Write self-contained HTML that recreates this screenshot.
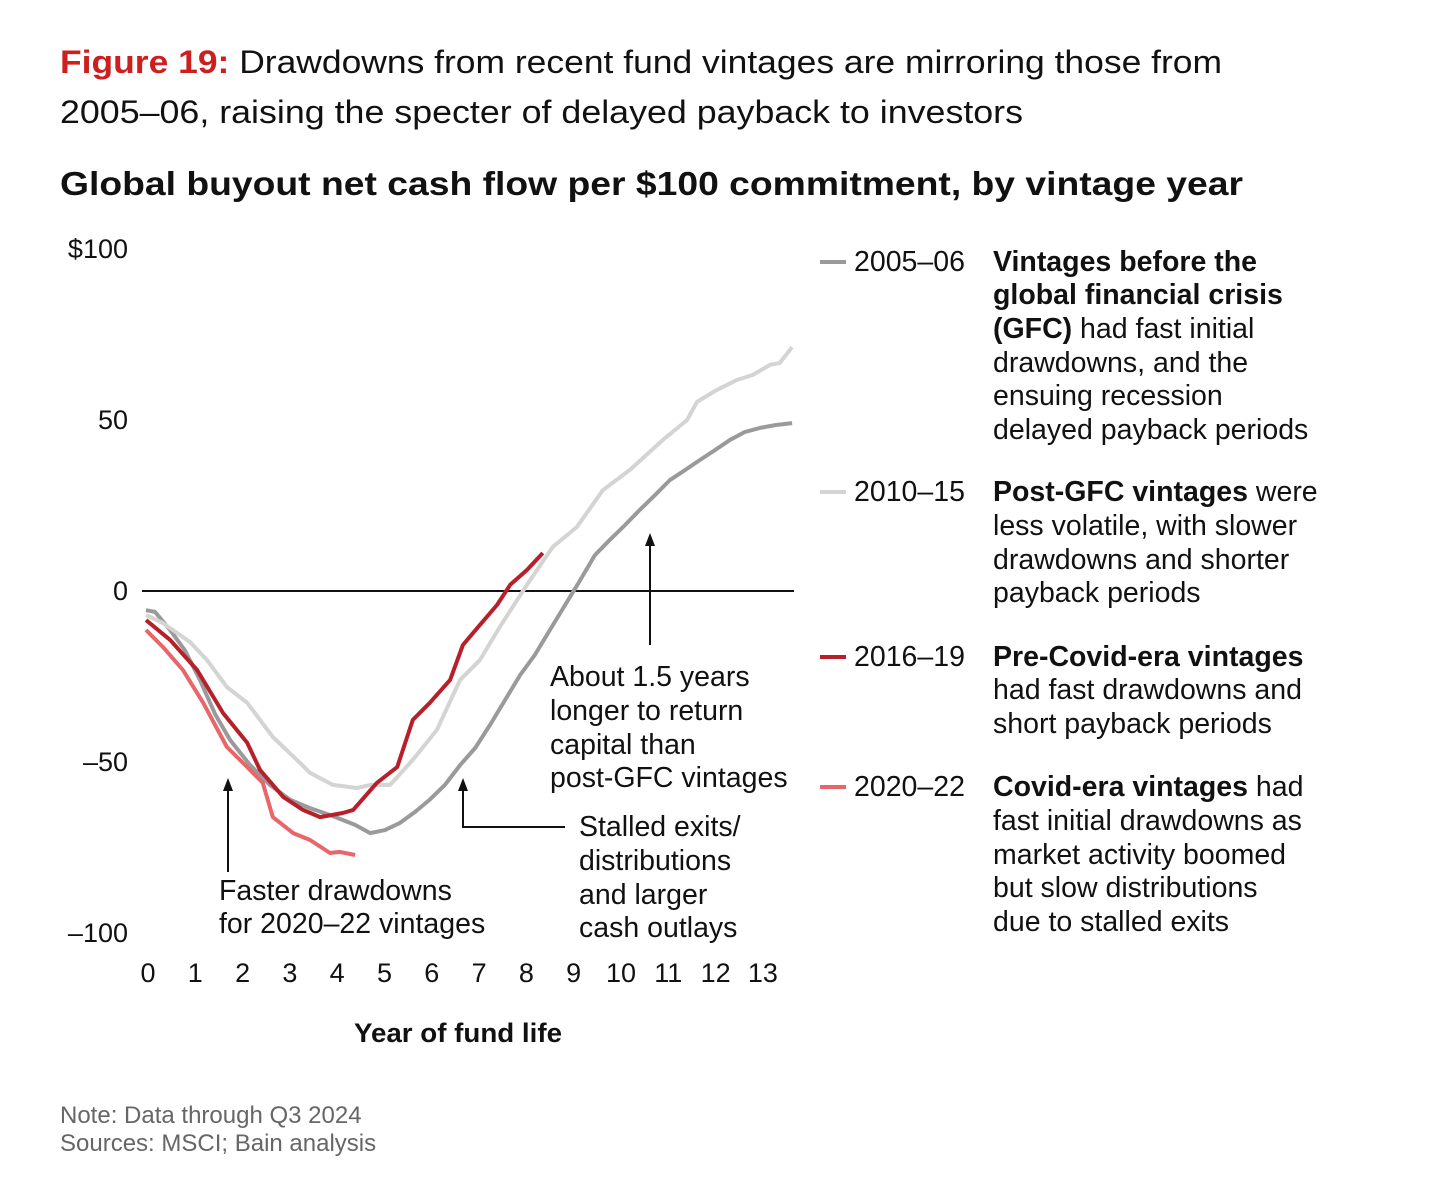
<!DOCTYPE html>
<html><head><meta charset="utf-8"><style>
html,body{margin:0;padding:0;background:#fff;}
svg{display:block;font-family:"Liberation Sans",sans-serif;}
</style></head><body>
<svg width="1440" height="1182" viewBox="0 0 1440 1182">
<g font-size="32" fill="#111">
<text x="60" y="73" textLength="1162" lengthAdjust="spacingAndGlyphs"><tspan fill="#cc1f1f" font-weight="bold">Figure 19:</tspan> Drawdowns from recent fund vintages are mirroring those from</text>
<text x="60" y="123" textLength="963" lengthAdjust="spacingAndGlyphs">2005–06, raising the specter of delayed payback to investors</text>
</g>
<text x="60" y="195" font-size="33" font-weight="bold" fill="#111" textLength="1183" lengthAdjust="spacingAndGlyphs">Global buyout net cash flow per $100 commitment, by vintage year</text>
<g id="yaxis" font-size="27" fill="#111" text-anchor="end"></g>
<g id="xaxis" font-size="27" fill="#111" text-anchor="middle"></g>
<line id="zeroline" stroke="#111" stroke-width="2"/>
<g id="series"></g>
<text x="458" y="1042" font-size="27" font-weight="bold" text-anchor="middle" fill="#111" textLength="208" lengthAdjust="spacingAndGlyphs">Year of fund life</text>
<g font-size="28.5" fill="#111" stroke-width="2">
<line x1="228" y1="872" x2="228" y2="786" stroke="#111"/><polygon points="228,778 223,791 233,791" fill="#111"/>
<text x="219" y="900">Faster drawdowns</text><text x="219" y="933">for 2020–22 vintages</text>
<polyline points="565,827 463,827 463,786" fill="none" stroke="#111"/><polygon points="463,778 458,791 468,791" fill="#111"/>
<text x="579" y="836">Stalled exits/</text><text x="579" y="870">distributions</text><text x="579" y="904">and larger</text><text x="579" y="937">cash outlays</text>
<line x1="650" y1="645" x2="650" y2="542" stroke="#111"/><polygon points="650,533 645,546 655,546" fill="#111"/>
<text x="550" y="686">About 1.5 years</text><text x="550" y="720">longer to return</text><text x="550" y="754">capital than</text><text x="550" y="787">post-GFC vintages</text>
</g>
<g font-size="28.5" fill="#111">
<g><line x1="820" y1="262" x2="846" y2="262" stroke="#9a9a9a" stroke-width="4"/><text x="854" y="271">2005–06</text>
<text x="993" y="271" font-weight="bold">Vintages before the</text><text x="993" y="304" font-weight="bold">global financial crisis</text><text x="993" y="338"><tspan font-weight="bold">(GFC)</tspan> had fast initial</text><text x="993" y="372">drawdowns, and the</text><text x="993" y="405">ensuing recession</text><text x="993" y="439">delayed payback periods</text></g>
<g><line x1="820" y1="492" x2="846" y2="492" stroke="#d4d4d2" stroke-width="4"/><text x="854" y="501">2010–15</text>
<text x="993" y="501"><tspan font-weight="bold">Post-GFC vintages</tspan> were</text><text x="993" y="535">less volatile, with slower</text><text x="993" y="569">drawdowns and shorter</text><text x="993" y="602">payback periods</text></g>
<g><line x1="820" y1="657" x2="846" y2="657" stroke="#b7202a" stroke-width="4"/><text x="854" y="666">2016–19</text>
<text x="993" y="666" font-weight="bold">Pre-Covid-era vintages</text><text x="993" y="699">had fast drawdowns and</text><text x="993" y="733">short payback periods</text></g>
<g><line x1="820" y1="787" x2="846" y2="787" stroke="#e8656a" stroke-width="4"/><text x="854" y="796">2020–22</text>
<text x="993" y="796"><tspan font-weight="bold">Covid-era vintages</tspan> had</text><text x="993" y="830">fast initial drawdowns as</text><text x="993" y="864">market activity boomed</text><text x="993" y="897">but slow distributions</text><text x="993" y="931">due to stalled exits</text></g>
</g>
<g font-size="24" fill="#666">
<text x="60" y="1123">Note: Data through Q3 2024</text><text x="60" y="1151">Sources: MSCI; Bain analysis</text>
</g>
</svg>
<script>
const yTicks=[100,50,0,-50,-100];
const yTickLabels=["$100","50","0","–50","–100"];
const xTicks=[0,1,2,3,4,5,6,7,8,9,10,11,12,13];
const seriesNames=["2005–06","2010–15","2016–19","2020–22"];
const seriesColors=["#9a9a9a","#d4d4d2","#b7202a","#e8656a"];
const years0506=[0,0.19,0.51,0.82,1.14,1.46,1.78,2.2,2.62,3.04,3.47,3.89,4.42,4.74,5.05,5.37,5.69,6.0,6.32,6.64,6.96,7.27,7.59,7.91,8.22,8.54,8.86,9.18,9.49,9.81,10.13,10.44,10.76,11.08,11.4,11.71,12.03,12.35,12.66,12.98,13.3,13.66];
const vals0506=[-5.6,-6.1,-11.4,-17.3,-26,-36,-43.6,-50.9,-56.7,-61,-63.5,-65.5,-68.4,-70.8,-69.9,-67.8,-64.6,-61,-56.7,-50.9,-45.9,-39.2,-31.9,-24.6,-18.7,-11.4,-4.1,3.2,10.5,15,19.3,23.7,28,32.5,35.4,38.3,41.2,44.2,46.5,47.7,48.5,49.1];
const years1015=[0,0.36,0.93,1.29,1.71,2.14,2.68,3.19,3.47,3.95,4.46,4.74,5.16,5.64,6.15,6.64,7.06,7.48,8.12,8.6,9.11,9.66,10.23,10.93,11.44,11.65,12.07,12.49,12.83,13.19,13.4,13.66];
const vals1015=[-7,-9.4,-14.9,-20.2,-28.1,-32.7,-42.7,-49.4,-53.2,-56.7,-57.6,-56.7,-56.7,-49.4,-40.6,-26,-20.2,-10.5,3.2,12.9,18.7,29.5,35.4,44.2,50,55.3,58.8,61.7,63.2,66.1,66.7,71.3];
const years1619=[0,0.51,1.08,1.63,2.14,2.41,2.9,3.32,3.68,4.16,4.38,4.88,5.31,5.64,6.0,6.43,6.7,7.06,7.42,7.7,8.05,8.39];
const vals1619=[-8.5,-14.3,-23.1,-35.7,-44.4,-52.3,-60.2,-64,-66.1,-64.9,-64,-56.1,-51.5,-37.7,-32.7,-26,-15.8,-9.9,-4.1,1.8,6.1,11.1];
const years2022=[0,0.36,0.78,1.21,1.71,2.14,2.47,2.68,3.11,3.47,3.89,4.1,4.42];
const vals2022=[-11.4,-16.4,-23.1,-32.7,-45.6,-51.5,-56.1,-66.1,-70.8,-72.8,-76.6,-76.3,-77.2];
const allYears=[years0506,years1015,years1619,years2022];
const allVals=[vals0506,vals1015,vals1619,vals2022];

const NS="http://www.w3.org/2000/svg";
function xs(t){return 146+t*47.3;}
function ys(v){return 591-v*3.42;}
const yg=document.getElementById('yaxis');
yTicks.forEach((v,i)=>{const t=document.createElementNS(NS,'text');
t.setAttribute('x',128);t.setAttribute('y',ys(v)+9);t.textContent=yTickLabels[i];


yg.appendChild(t);});
const xg=document.getElementById('xaxis');
xTicks.forEach(v=>{const t=document.createElementNS(NS,'text');
t.setAttribute('x',xs(v)+2);t.setAttribute('y',982);t.textContent=String(v);


xg.appendChild(t);});
const z=document.getElementById('zeroline');
z.setAttribute('x1',142);z.setAttribute('x2',794);z.setAttribute('y1',ys(0));z.setAttribute('y2',ys(0));
const sg=document.getElementById('series');
allYears.forEach((yrs,i)=>{const p=document.createElementNS(NS,'polyline');
p.setAttribute('points',yrs.map((t,j)=>xs(t).toFixed(1)+','+ys(allVals[i][j]).toFixed(1)).join(' '));
p.setAttribute('fill','none');p.setAttribute('stroke',seriesColors[i]);p.setAttribute('stroke-width','4');
p.setAttribute('stroke-linejoin','round');


sg.appendChild(p);});
</script>
</body></html>
